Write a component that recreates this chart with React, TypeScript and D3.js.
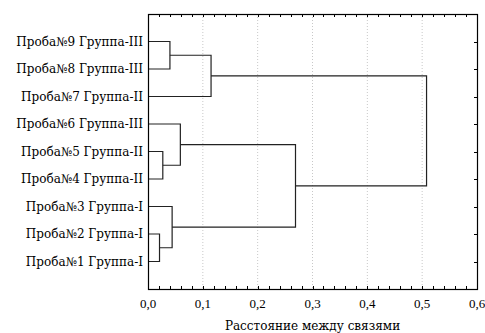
import React from 'react';
import * as d3 from 'd3';

// leaf labels, top to bottom
const leafLabels = [
  'Проба№9 Группа-III',
  'Проба№8 Группа-III',
  'Проба№7 Группа-II',
  'Проба№6 Группа-III',
  'Проба№5 Группа-II',
  'Проба№4 Группа-II',
  'Проба№3 Группа-I',
  'Проба№2 Группа-I',
  'Проба№1 Группа-I',
];

// linkage: [node a, node b, distance]; new nodes get ids 9, 10, ...
const mergeA = [0, 9, 4, 3, 7, 6, 12, 10];
const mergeB = [1, 2, 5, 11, 8, 13, 14, 15];
const mergeDist = [0.04, 0.115, 0.027, 0.059, 0.021, 0.044, 0.269, 0.508];

const xTicks = [0, 0.1, 0.2, 0.3, 0.4, 0.5, 0.6];
const xTitle = 'Расстояние между связями';

const W = 485;
const H = 333;
const margin = { top: 14, right: 8, bottom: 44, left: 148 };
// Liberation Serif here has no Cyrillic, so DejaVu Serif does the labels
const font = "'DejaVu Serif', serif";
const numFont = "'Liberation Serif', 'DejaVu Serif', serif";

export default function App() {
  const innerW = W - margin.left - margin.right;
  const innerH = H - margin.top - margin.bottom;

  const x = d3.scaleLinear().domain([0, 0.6]).range([0, innerW]);
  const y = d3.scaleLinear().domain([0, leafLabels.length + 1]).range([0, innerH]);

  // node positions
  const nodeY: number[] = leafLabels.map((_, i) => y(i + 1));
  const nodeH: number[] = leafLabels.map(() => 0);
  const paths: string[] = [];
  mergeDist.forEach((h, k) => {
    const a = mergeA[k];
    const b = mergeB[k];
    const xa = x(nodeH[a]);
    const xb = x(nodeH[b]);
    const xm = x(h);
    paths.push(`M${xa},${nodeY[a]}H${xm}V${nodeY[b]}H${xb}`);
    nodeY.push((nodeY[a] + nodeY[b]) / 2);
    nodeH.push(h);
  });

  const minor = d3.range(0, 0.6001, 0.02);

  return (
    <svg width={W} height={H} style={{ position: 'absolute', left: 0, top: 0, background: '#fff' }}>
      <g transform={`translate(${margin.left},${margin.top})`} fontFamily={font}>
        {xTicks.slice(1, -1).map(t => (
          <line key={'g' + t} x1={x(t)} x2={x(t)} y1={0} y2={innerH}
            stroke="#c8c8c8" strokeWidth={1} strokeDasharray="1,2" />
        ))}
        {minor.map(t => (
          <g key={'m' + t}>
            <line x1={Math.round(x(t)) + 0.5} x2={Math.round(x(t)) + 0.5} y1={innerH} y2={innerH - 3} stroke="#000" />
            <line x1={Math.round(x(t)) + 0.5} x2={Math.round(x(t)) + 0.5} y1={0} y2={3} stroke="#000" />
          </g>
        ))}
        {leafLabels.map((_, i) => (
          <line key={'r' + i} x1={innerW} x2={innerW - 3} y1={Math.round(y(i + 1)) + 0.5} y2={Math.round(y(i + 1)) + 0.5} stroke="#000" />
        ))}
        {paths.map((d, i) => (
          <path key={i} d={d} fill="none" stroke="#222" strokeWidth={1.2} />
        ))}
        <rect x={0.5} y={0.5} width={innerW} height={innerH} fill="none" stroke="#000" strokeWidth={1.2} />
        {leafLabels.map((l, i) => (
          <text key={l} x={-5} y={y(i + 1)} dy="0.35em" textAnchor="end" fontSize={12} fill="#000">{l}</text>
        ))}
        {xTicks.map(t => (
          <text key={'t' + t} x={x(t)} y={innerH + 19} textAnchor="middle" fontSize={13} fill="#000"
            fontFamily={numFont}>
            {d3.format('.1f')(t).replace('.', ',')}
          </text>
        ))}
        <text x={innerW / 2} y={innerH + 41} textAnchor="middle" fontSize={12} fill="#000">{xTitle}</text>
      </g>
    </svg>
  );
}
